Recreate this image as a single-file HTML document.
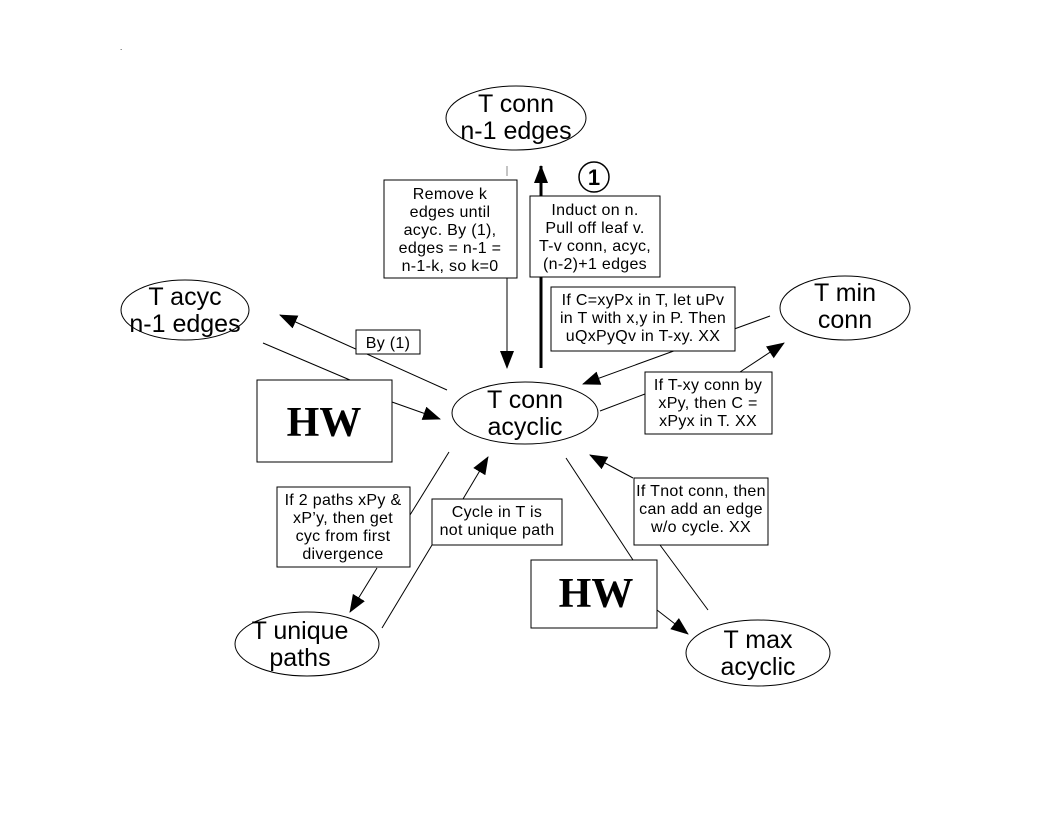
<!DOCTYPE html>
<html><head><meta charset="utf-8"><style>
html,body{margin:0;padding:0;background:#fff}
svg text{font-family:"Liberation Sans",Arial,sans-serif;fill:#000}
.e{font-size:25px}.b{font-size:16px;letter-spacing:0.3px}
.hw{font-family:"Liberation Serif",serif;font-weight:bold;font-size:42px}
</style></head><body>
<svg width="1056" height="816" xmlns="http://www.w3.org/2000/svg">
<defs>
<marker id="ab" markerWidth="18" markerHeight="18" refX="17" refY="9" orient="auto" markerUnits="userSpaceOnUse" viewBox="0 0 18 18"><path d="M0,2 L18,9 L0,16z" fill="#000"/></marker></defs>
<g fill="none" stroke="#000" stroke-width="1">
<line x1="507" y1="166" x2="507" y2="176" stroke="#888"/>
<line x1="507" y1="278" x2="507" y2="368" marker-end="url(#ab)"/>
<line x1="541" y1="368" x2="541" y2="166" stroke-width="3" marker-end="url(#ab)"/>
<line x1="447" y1="390" x2="280" y2="315" marker-end="url(#ab)"/>
<line x1="263" y1="343" x2="350" y2="380"/>
<line x1="392" y1="402" x2="440" y2="419" marker-end="url(#ab)"/>
<line x1="770" y1="316" x2="583" y2="384" marker-end="url(#ab)"/>
<line x1="600" y1="411" x2="645" y2="394"/>
<line x1="740" y1="372" x2="784" y2="343" marker-end="url(#ab)"/>
<line x1="449" y1="452" x2="410" y2="515"/>
<line x1="377" y1="568" x2="350" y2="612" marker-end="url(#ab)"/>
<line x1="382" y1="628" x2="432" y2="545"/>
<line x1="463" y1="499" x2="488" y2="457" marker-end="url(#ab)"/>
<line x1="566" y1="458" x2="633" y2="560"/>
<line x1="657" y1="610" x2="688" y2="634" marker-end="url(#ab)"/>
<line x1="708" y1="610" x2="660" y2="545"/>
<line x1="633" y1="478" x2="590" y2="455" marker-end="url(#ab)"/>
</g>
<g fill="#fff" stroke="#000">
<ellipse cx="516" cy="118" rx="70" ry="32"/>
<ellipse cx="185" cy="310" rx="64" ry="30"/>
<ellipse cx="845" cy="308" rx="65" ry="32"/>
<ellipse cx="525" cy="413" rx="73" ry="31"/>
<ellipse cx="307" cy="644" rx="72" ry="32"/>
<ellipse cx="758" cy="653" rx="72" ry="33"/>
<rect x="384" y="180" width="133" height="98"/>
<rect x="530" y="196" width="130" height="81"/>
<rect x="551" y="287" width="184" height="64"/>
<rect x="356" y="330" width="64" height="24"/>
<rect x="257" y="380" width="135" height="82"/>
<rect x="645" y="372" width="127" height="62"/>
<rect x="277" y="487" width="133" height="80"/>
<rect x="432" y="499" width="130" height="46"/>
<rect x="634" y="478" width="134" height="67"/>
<rect x="531" y="560" width="126" height="68"/>
<circle cx="594" cy="177" r="15" stroke-width="1.5"/>
</g>
<text x="594" y="185" text-anchor="middle" font-size="22" font-weight="bold">1</text>
<g class="e" text-anchor="middle">
<text x="516" y="112">T conn</text><text x="516" y="139">n-1 edges</text>
<text x="185" y="305">T acyc</text><text x="185" y="332">n-1 edges</text>
<text x="845" y="301">T min</text><text x="845" y="328">conn</text>
<text x="525" y="408">T conn</text><text x="525" y="435">acyclic</text>
<text x="300" y="639">T unique</text><text x="300" y="666">paths</text>
<text x="758" y="648">T max</text><text x="758" y="675">acyclic</text>
</g>
<g class="b" text-anchor="middle">
<text x="450" y="199">Remove k</text><text x="450" y="217">edges until</text><text x="450" y="235">acyc. By (1),</text><text x="450" y="253">edges = n-1 =</text><text x="450" y="271">n-1-k, so k=0</text>
<text x="595" y="215">Induct on n.</text><text x="595" y="233">Pull off leaf v.</text><text x="595" y="251">T-v conn, acyc,</text><text x="595" y="269">(n-2)+1 edges</text>
<text x="643" y="305">If C=xyPx in T, let uPv</text><text x="643" y="323">in T with x,y in P. Then</text><text x="643" y="341">uQxPyQv in T-xy. XX</text>
<text x="388" y="348">By (1)</text>
<text x="708" y="390">If T-xy conn by</text><text x="708" y="408">xPy, then C =</text><text x="708" y="426">xPyx in T. XX</text>
<text x="343" y="505">If 2 paths xPy &amp;</text><text x="343" y="523">xP’y, then get</text><text x="343" y="541">cyc from first</text><text x="343" y="559">divergence</text>
<text x="497" y="517">Cycle in T is</text><text x="497" y="535">not unique path</text>
<text x="701" y="496">If Tnot conn, then</text><text x="701" y="514">can add an edge</text><text x="701" y="532">w/o cycle. XX</text>
</g>
<text class="hw" x="324" y="436" text-anchor="middle">HW</text>
<text class="hw" x="596" y="607" text-anchor="middle">HW</text>
<text x="120" y="50" font-size="8">.</text>
</svg>
</body></html>
